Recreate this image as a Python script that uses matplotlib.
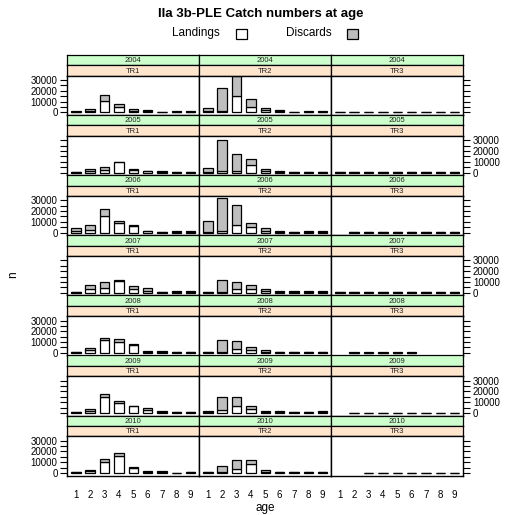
import numpy as np
import matplotlib
matplotlib.use('Agg')
import matplotlib.pyplot as plt
from matplotlib.patches import Rectangle

plt.rcParams['font.family'] = ['Liberation Sans', 'DejaVu Sans']

ages = list(range(1, 10))
years = [2004, 2005, 2006, 2007, 2008, 2009, 2010]
areas = ['TR1', 'TR2', 'TR3']
nan = np.nan

# rows = years, columns = ages 1..9
landings_TR1 = [
    [500, 1500, 10500, 5000, 1500, 1500, 200, 500, 600],
    [400, 1800, 2700, 9500, 2000, 1200, 500, 50, 400],
    [1500, 2000, 15500, 9000, 6500, 1200, 600, 800, 800],
    [600, 3500, 4500, 10500, 3500, 2000, 400, 800, 800],
    [600, 2500, 12000, 10400, 7500, 1200, 1000, 400, 400],
    [800, 2000, 15000, 9500, 6000, 3000, 1200, 600, 800],
    [800, 1800, 10100, 15600, 4300, 1400, 1000, 200, 600],
]
discards_TR1 = [
    [500, 2000, 6000, 2800, 1300, 600, 100, 400, 300],
    [200, 1900, 2200, 300, 1500, 600, 700, 50, 200],
    [3000, 5000, 6500, 2000, 800, 600, 300, 400, 400],
    [300, 3200, 5300, 1100, 2300, 2300, 200, 400, 400],
    [400, 2000, 2100, 2400, 700, 600, 500, 200, 200],
    [400, 1500, 2400, 1800, 700, 1900, 600, 300, 400],
    [400, 1200, 3000, 2700, 900, 700, 500, 100, 300],
]
landings_TR2 = [
    [1000, 1000, 15500, 5000, 2500, 1200, 200, 500, 500],
    [300, 1200, 1800, 7300, 1500, 900, 400, 400, 400],
    [500, 1500, 7300, 5000, 1500, 900, 400, 800, 800],
    [600, 1000, 3500, 3500, 1500, 900, 800, 800, 800],
    [400, 500, 4000, 2800, 1200, 800, 400, 400, 400],
    [1000, 3000, 6400, 3500, 1200, 1000, 600, 600, 900],
    [800, 1000, 4000, 8000, 1400, 800, 800, 600, 600],
]
discards_TR2 = [
    [3000, 22000, 18500, 7000, 2000, 900, 100, 400, 400],
    [4300, 29400, 15000, 4900, 1500, 600, 200, 200, 200],
    [9900, 30500, 18700, 4000, 2800, 600, 200, 400, 400],
    [300, 10900, 6300, 4100, 1500, 600, 400, 400, 400],
    [200, 11400, 6700, 3000, 1200, 400, 200, 200, 200],
    [800, 12000, 8600, 3200, 900, 800, 300, 300, 600],
    [400, 5400, 8500, 3900, 1000, 400, 400, 300, 300],
]
landings_TR3 = [
    [200, 200, 200, 200, 200, 200, 200, 200, 200],
    [200, 200, 200, 200, 200, 200, 200, 200, 200],
    [nan, 200, 200, 200, 200, 200, 200, 200, 200],
    [200, 200, 200, 200, 200, 200, 200, 200, 200],
    [nan, 200, 200, 200, 200, 200, nan, nan, nan],
    [nan, 200, 200, 200, 200, 200, 200, 200, 200],
    [nan, nan, 200, 200, 200, 200, 200, 200, 200],
]
discards_TR3 = [
    [100, 100, 100, 100, 100, 100, 100, 100, 100],
    [100, 100, 100, 100, 100, 100, 100, 100, 100],
    [nan, 100, 100, 100, 100, 100, 100, 100, 100],
    [100, 100, 100, 100, 100, 100, 100, 100, 100],
    [nan, 100, 100, 100, 100, 100, nan, nan, nan],
    [nan, 100, 100, 100, 100, 100, 100, 100, 100],
    [nan, nan, 100, 100, 100, 100, 100, 100, 100],
]

landings = {'TR1': landings_TR1, 'TR2': landings_TR2, 'TR3': landings_TR3}
discards = {'TR1': discards_TR1, 'TR2': discards_TR2, 'TR3': discards_TR3}

W, H = 506, 515
fig = plt.figure(figsize=(W / 100, H / 100), dpi=100)


def box(x, y, w, h):
    return [x / W, 1 - (y + h) / H, w / W, h / H]


col_x = [67.3, 199.3, 331.3]
col_w = 132
row_top = 55
row_step = 60.1
strip_h = 10.4
panel_h = row_step - 2 * strip_h

for i, year in enumerate(years):
    y0 = row_top + i * row_step
    for j, area in enumerate(areas):
        x0 = col_x[j]
        for k, (label, colour) in enumerate([(str(year), '#CCFFCC'), (area, '#FFE5CC')]):
            sax = fig.add_axes(box(x0, y0 + k * strip_h, col_w, strip_h))
            sax.set_facecolor(colour)
            sax.set_xticks([])
            sax.set_yticks([])
            for s in sax.spines.values():
                s.set_linewidth(0.9)
            sax.text(0.5, 0.45, label, transform=sax.transAxes, ha='center',
                     va='center', fontsize=5.5, color='#222222')

        ax = fig.add_axes(box(x0, y0 + 2 * strip_h, col_w, panel_h))
        L = np.array(landings[area][i], dtype=float)
        D = np.array(discards[area][i], dtype=float)
        ok = ~np.isnan(L)
        a = np.array(ages)[ok]
        ax.bar(a, L[ok], width=0.667, color='white', edgecolor='black', linewidth=0.9)
        ax.bar(a, D[ok], bottom=L[ok], width=0.667, color='#BEBEBE',
               edgecolor='black', linewidth=0.9)
        ax.set_xlim(0.4, 9.6)
        ax.set_ylim(-2500, 34000)
        for s in ax.spines.values():
            s.set_linewidth(1.0)

        ax.set_yticks(range(0, 30001, 5000))
        ax.set_yticklabels(['0', '', '10000', '', '20000', '', '30000'])
        ax.tick_params(axis='y', direction='out', length=5, width=0.8,
                       labelsize=7, pad=2,
                       left=(j == 0), right=(j == 2),
                       labelleft=(j == 0 and i % 2 == 0),
                       labelright=(j == 2 and i % 2 == 1))
        if i == len(years) - 1:
            ax.set_xticks(ages)
            ax.tick_params(axis='x', length=0, labelsize=7, pad=10.5)
        else:
            ax.set_xticks([])

# title and key
fig.text(261 / W, 1 - 14 / H, 'IIa 3b-PLE Catch numbers at age', ha='center',
         va='center', fontsize=9.5, fontweight='bold')
fig.text(220 / W, 1 - 33 / H, 'Landings', ha='right', va='center', fontsize=8.5)
fig.text(332 / W, 1 - 33 / H, 'Discards', ha='right', va='center', fontsize=8.5)
fig.patches.append(Rectangle((236 / W, 1 - 38.5 / H), 11 / W, 10 / H,
                             transform=fig.transFigure, facecolor='white',
                             edgecolor='black', linewidth=0.9))
fig.patches.append(Rectangle((347 / W, 1 - 38.5 / H), 11 / W, 10 / H,
                             transform=fig.transFigure, facecolor='#BEBEBE',
                             edgecolor='black', linewidth=0.9))

fig.text(13 / W, 1 - 275 / H, 'n', rotation=90, ha='center', va='center', fontsize=8.5)
fig.text(265 / W, 1 - 508 / H, 'age', ha='center', va='center', fontsize=8.5)

fig.savefig('out.png', dpi=100)
